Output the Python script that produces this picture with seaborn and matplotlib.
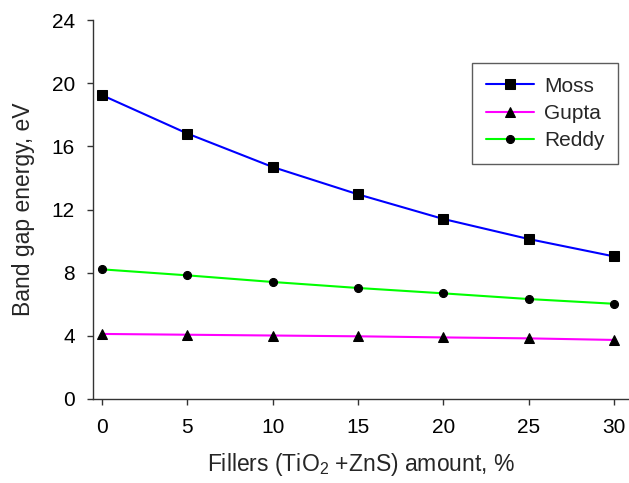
import numpy as np
import pandas as pd
import matplotlib
matplotlib.use("Agg")
import matplotlib.pyplot as plt
import seaborn as sns

fillers = [0, 5, 10, 15, 20, 25, 30]
moss = [19.24, 16.81, 14.69, 12.96, 11.40, 10.13, 9.03]
gupta = [4.12, 4.07, 4.02, 3.97, 3.9, 3.84, 3.74]
reddy = [8.21, 7.83, 7.41, 7.03, 6.69, 6.33, 6.03]
series_names = ["Moss", "Gupta", "Reddy"]
series_colors = ["#0000ff", "#ff00ff", "#00ff00"]
series_markers = ["s", "^", "o"]
x_ticks = [0, 5, 10, 15, 20, 25, 30]
y_ticks = [0, 4, 8, 12, 16, 20, 24]

sns.set_style("ticks")
plt.rcParams["font.family"] = ["Liberation Sans", "DejaVu Sans"]
plt.rcParams["mathtext.fontset"] = "custom"
plt.rcParams["mathtext.rm"] = "Liberation Sans"
plt.rcParams["mathtext.it"] = "Liberation Sans"

df = pd.DataFrame({
    "x": fillers * 3,
    "y": moss + gupta + reddy,
    "series": sum([[n] * len(fillers) for n in series_names], []),
})

fig = plt.figure(figsize=(6.29, 4.83), dpi=100)
ax = fig.add_axes([93 / 629, 84 / 483, (629 - 93) / 629, 379 / 483])

sizes = {"s": 7, "^": 7, "o": 5.8}
for name, col, mk in zip(series_names, series_colors, series_markers):
    sub = df[df["series"] == name]
    sns.lineplot(data=sub, x="x", y="y", ax=ax, color=col, marker=mk,
                 markersize=sizes[mk], markerfacecolor="black", markeredgecolor="black",
                 linewidth=1.5, label=name)

ax.set_xlim(-0.53, 30.88)
ax.set_ylim(0, 24)
ax.set_xticks(x_ticks)
ax.set_yticks(y_ticks)
ax.tick_params(axis="both", labelsize=15, length=4, width=1, color="#333333", labelcolor="black")
ax.tick_params(axis="x", pad=10)
ax.tick_params(axis="y", pad=9)
for s in ["top", "right"]:
    ax.spines[s].set_visible(False)
for s in ["left", "bottom"]:
    ax.spines[s].set_color("#333333")
    ax.spines[s].set_linewidth(1)

ax.set_xlabel("Fillers (TiO$_2$ +ZnS) amount, %", fontsize=16.5, labelpad=10)
ax.set_ylabel("Band gap energy, eV", fontsize=16.5, labelpad=12)

leg = ax.legend(loc="upper right", bbox_to_anchor=(618 / 629, 1 - 63 / 483),
                bbox_transform=fig.transFigure, borderaxespad=0,
                fontsize=15, frameon=True, fancybox=False, edgecolor="#333333",
                handlelength=2.3, borderpad=0.65, labelspacing=0.4, handletextpad=0.5)
leg.get_frame().set_linewidth(1)

fig.savefig("out.png", dpi=100)
